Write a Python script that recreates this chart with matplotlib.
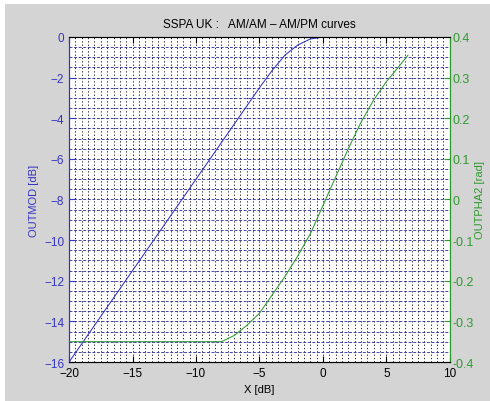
import numpy as np
import matplotlib
matplotlib.use("Agg")
import matplotlib.pyplot as plt
from matplotlib.patches import Rectangle

plt.rcParams['font.family'] = ['Liberation Sans', 'DejaVu Sans']

# AM/AM curve (output level vs input level)
am_x = [-20, -18, -16, -14, -12, -10, -8, -6, -5, -4, -3, -2, -1, 0, 1, 2, 3, 4, 5]
am_y = [-16, -14.2, -12.4, -10.6, -8.8, -7.0, -5.2, -3.4, -2.5, -1.65, -0.9,
        -0.4, -0.1, 0, 0, 0, 0, 0, 0]

# AM/PM curve (output phase vs input level)
pm_x = [-20, -8, -7, -6, -5, -4, -3, -2, -1, 0, 1, 2, 3, 4, 5, 6, 6.7]
pm_y = [-0.35, -0.35, -0.335, -0.31, -0.28, -0.235, -0.19, -0.14, -0.085,
        -0.015, 0.055, 0.125, 0.19, 0.245, 0.29, 0.328, 0.355]

x_ticks = [-20, -15, -10, -5, 0, 5, 10]
left_ticks = [0, -2, -4, -6, -8, -10, -12, -14, -16]
right_ticks = [0.4, 0.3, 0.2, 0.1, 0, -0.1, -0.2, -0.3, -0.4]

blue = '#3434c4'
green = '#2e9a2e'

fig = plt.figure(figsize=(4.9, 4.02), dpi=100, facecolor='white')
fig.patches.append(Rectangle((5 / 490, 0), 1, 1 - 5 / 402, transform=fig.transFigure,
                             facecolor='#d4d4d4', edgecolor='none', zorder=-10))

ax = fig.add_axes([0.141, 0.097, 0.777, 0.8085])
ax.set_facecolor('white')
ax.set_xlim(-20, 10)
ax.set_ylim(-16, 0)

# dense grid: vertical dotted black, horizontal dashed blue
for gx in np.arange(-19.5, 10, 0.5):
    ax.axvline(gx, color='black', linestyle=(0, (1.5, 2.5)), linewidth=0.6, zorder=0)
for gy in np.arange(-15.5, 0, 0.5):
    ax.axhline(gy, color='#28289a', linestyle=(0, (3.5, 2)), linewidth=0.6, zorder=0)

ax.plot(am_x, am_y, color=blue, linewidth=0.75, zorder=3)

ax.set_xticks(x_ticks)
ax.set_yticks(left_ticks)
ax.tick_params(axis='x', direction='in', top=True, labelsize=8.5, length=4, colors='black')
ax.tick_params(axis='y', direction='in', labelsize=8.5, length=4, colors=blue)
ax.set_ylabel('OUTMOD [dB]', color=blue, fontsize=8)
ax.set_xlabel('X [dB]', fontsize=8)
ax.set_title('SSPA UK :   AM/AM \u2013 AM/PM curves', fontsize=8.5, pad=7)
ax.spines['left'].set_color(blue)
ax.spines['top'].set_color('#555555')
ax.spines['right'].set_color(green)

ax2 = ax.twinx()
ax2.set_ylim(-0.4, 0.4)
ax2.plot(pm_x, pm_y, color=green, linewidth=0.75, zorder=3)
ax2.set_yticks(right_ticks)
ax2.set_yticklabels(['0.4', '0.3', '0.2', '0.1', '0', '-0.1', '-0.2', '-0.3', '-0.4'])
ax2.tick_params(axis='y', direction='in', labelsize=9, length=4, pad=2, colors=green)
ax2.set_ylabel('OUTPHA2 [rad]', color=green, fontsize=8, labelpad=1)
ax2.spines['right'].set_color(green)
ax2.spines['left'].set_color(blue)

fig.savefig('out.png', dpi=100, facecolor=fig.get_facecolor())
